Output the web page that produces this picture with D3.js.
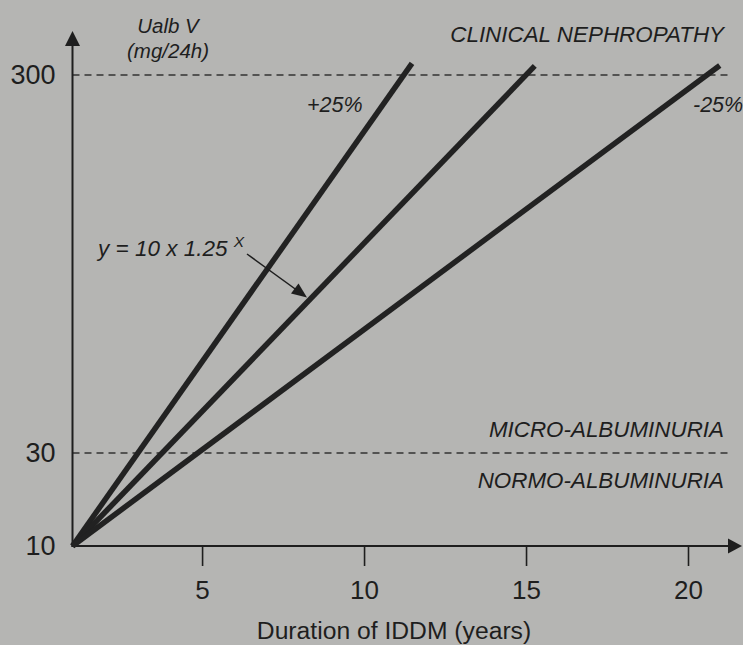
<!DOCTYPE html>
<html>
<head>
<meta charset="utf-8">
<script src="https://cdn.jsdelivr.net/npm/d3@7"></script>
<style>
  html, body { margin: 0; padding: 0; background: #b5b5b3; }
  svg { display: block; }
  text { font-family: "Liberation Sans", Arial, Helvetica, sans-serif; fill: #1e1e1e; }
</style>
</head>
<body>
<script>
// Urinary albumin excretion rising exponentially with duration of IDDM
const yearTicks = [5, 10, 15, 20];
const albuminTicks = [10, 30, 300];
const thresholdValues = [30, 300];
const curveNames = ["+25%", "y = 10 x 1.25^x", "-25%"];
const startYear = 1;
const startValue = 10;
const endYears = [11.48, 15.27, 20.98];
const endValues = [322, 317, 318];

const W = 743, H = 645;
const svg = d3.select("body").append("svg").attr("width", W).attr("height", H);

const x = d3.scaleLinear().domain([1, 20]).range([72.5, 688]);
// piecewise log scale: the 10–30 band is compressed on this schematic axis
const y = d3.scaleLog().domain([10, 30, 300]).range([546, 453, 75]);

const ink = "#1e1e1e";
const x0 = x(startYear), y0 = y(startValue);

// threshold dashed lines
svg.selectAll("line.threshold").data(thresholdValues).join("line")
  .attr("class", "threshold")
  .attr("x1", x0).attr("x2", 728)
  .attr("y1", d => y(d)).attr("y2", d => y(d))
  .attr("stroke", "#333").attr("stroke-width", 1.3)
  .attr("stroke-dasharray", "7,5");

// x axis
const xAxis = svg.append("g").attr("transform", `translate(0,${y0})`)
  .call(d3.axisBottom(x).tickValues(yearTicks).tickSize(20).tickPadding(15));
xAxis.select(".domain").remove();
xAxis.selectAll(".tick line").attr("stroke", ink).attr("stroke-width", 1.6);
xAxis.selectAll(".tick text").attr("font-size", 26).style("fill", ink)
  .attr("font-family", "Liberation Sans, Arial, sans-serif");

// y axis labels
const yAxis = svg.append("g").attr("transform", `translate(${x0},0)`)
  .call(d3.axisLeft(y).tickValues(albuminTicks).tickSize(0).tickPadding(17).tickFormat(d3.format("d")));
yAxis.select(".domain").remove();
yAxis.selectAll(".tick text").attr("font-size", 27).style("fill", ink)
  .attr("font-family", "Liberation Sans, Arial, sans-serif");

// axis lines with arrow heads
svg.append("line").attr("x1", x0).attr("x2", x0).attr("y1", y0 + 1).attr("y2", 44)
  .attr("stroke", ink).attr("stroke-width", 2);
svg.append("path").attr("d", `M${x0},31 L${x0 - 7.5},46 L${x0 + 7.5},46 Z`).attr("fill", ink);
svg.append("line").attr("x1", x0 - 1).attr("x2", 730).attr("y1", y0).attr("y2", y0)
  .attr("stroke", ink).attr("stroke-width", 2);
svg.append("path").attr("d", `M742,${y0} L728,${y0 - 7.5} L728,${y0 + 7.5} Z`).attr("fill", ink);

// exponential trajectories (straight on the log axis)
const curves = endYears.map((ey, i) => [[startYear, startValue], [ey, endValues[i]]]);
const lineGen = d3.line().x(d => x(d[0])).y(d => y(d[1]));
svg.selectAll("path.curve").data(curves).join("path")
  .attr("class", "curve")
  .attr("d", lineGen)
  .attr("fill", "none").attr("stroke", "#222").attr("stroke-width", 5.5)
  .attr("stroke-linecap", "butt").attr("stroke-linejoin", "miter");

// axis titles
svg.append("text").attr("x", 168).attr("y", 33).attr("text-anchor", "middle")
  .attr("font-size", 20.5).attr("font-style", "italic").text("Ualb V");
svg.append("text").attr("x", 168).attr("y", 58).attr("text-anchor", "middle")
  .attr("font-size", 20.5).attr("font-style", "italic").text("(mg/24h)");
svg.append("text").attr("x", 394).attr("y", 639).attr("text-anchor", "middle")
  .attr("font-size", 24.7).text("Duration of IDDM (years)");

// zone labels
const zoneLabels = [
  { t: "CLINICAL NEPHROPATHY", yy: 42 },
  { t: "MICRO-ALBUMINURIA", yy: 437 },
  { t: "NORMO-ALBUMINURIA", yy: 488 }
];
svg.selectAll("text.zone").data(zoneLabels).join("text")
  .attr("class", "zone")
  .attr("x", 724).attr("y", d => d.yy).attr("text-anchor", "end")
  .attr("font-size", 22.4).attr("font-style", "italic").text(d => d.t);

// curve labels
svg.append("text").attr("x", 307).attr("y", 112).attr("font-size", 21.5)
  .attr("font-style", "italic").text(curveNames[0]);
svg.append("text").attr("x", 693).attr("y", 112).attr("font-size", 21.5)
  .attr("font-style", "italic").text(curveNames[2]);

const eq = svg.append("text").attr("x", 98).attr("y", 256).attr("font-size", 22.5)
  .attr("font-style", "italic");
eq.append("tspan").text("y = 10 x 1.25 ");
eq.append("tspan").attr("font-size", 15.5).attr("dy", -9).text("X");

// pointer from the equation to the middle curve
svg.append("line").attr("x1", 247).attr("y1", 254).attr("x2", 298).attr("y2", 291)
  .attr("stroke", ink).attr("stroke-width", 1.5);
svg.append("path")
  .attr("d", "M307,297.5 L291,293.5 L298.5,283.5 Z")
  .attr("fill", ink);
</script>
</body>
</html>
